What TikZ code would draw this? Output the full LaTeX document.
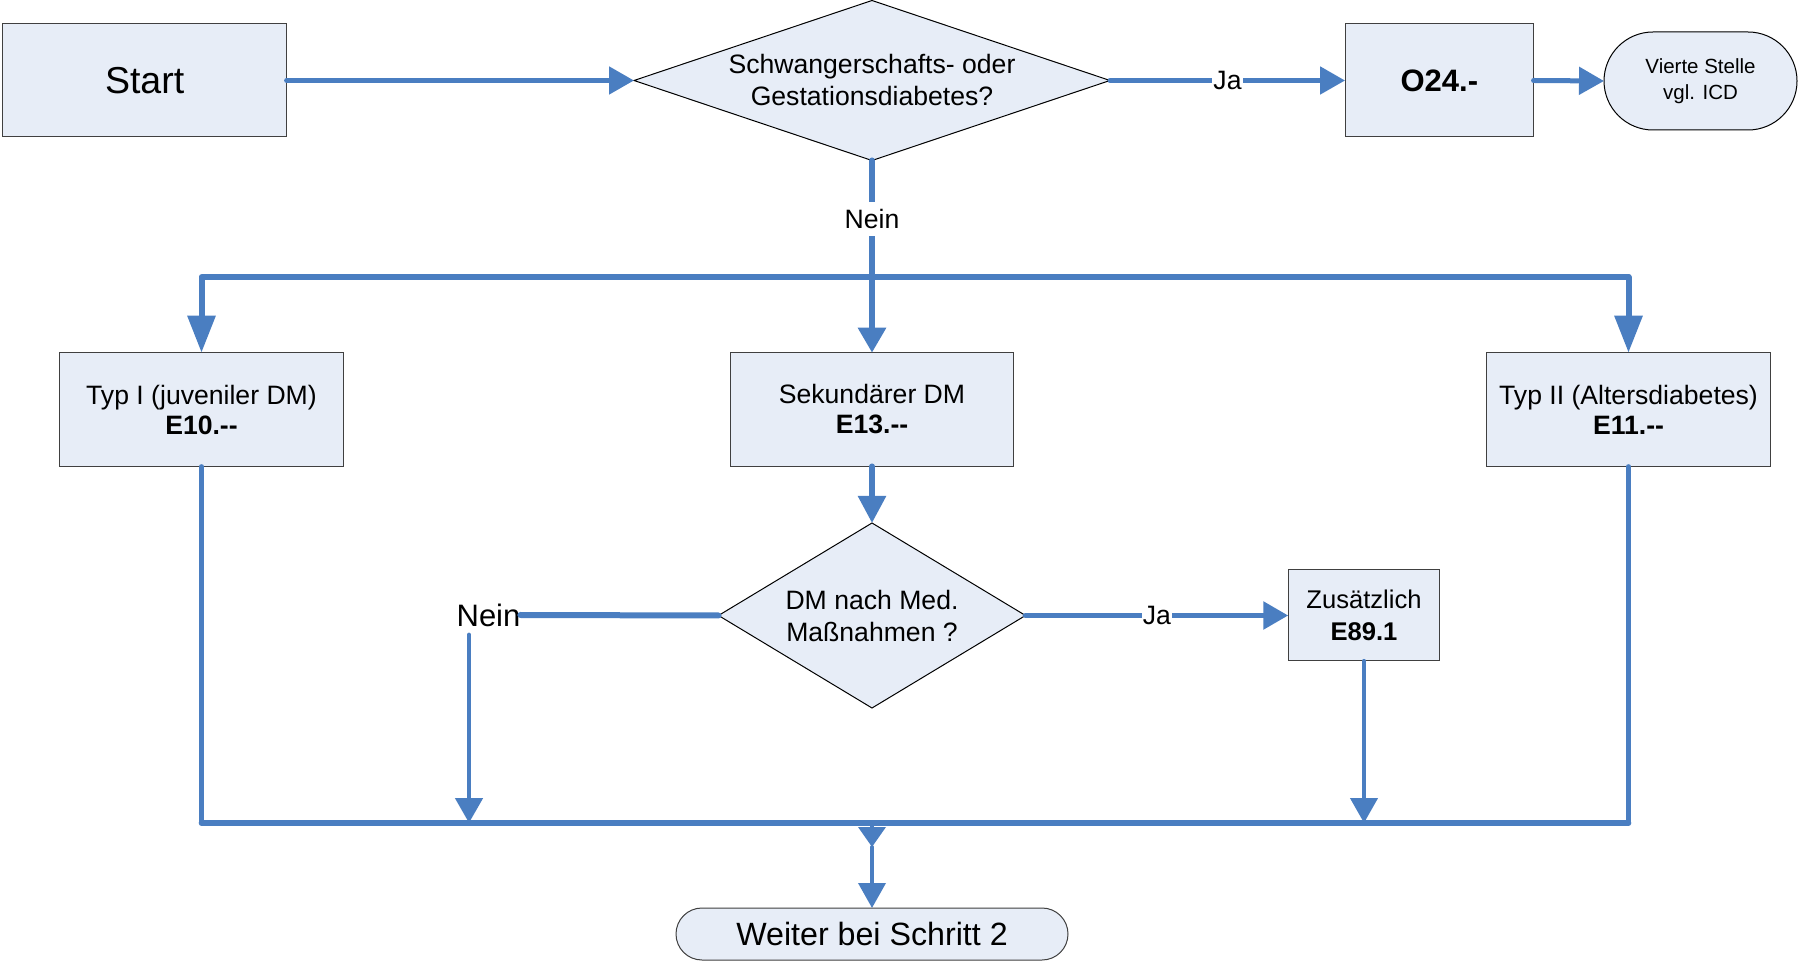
\documentclass[tikz,border=0pt]{standalone}
\usepackage{fontspec}
\setmainfont{Liberation Sans}
\usetikzlibrary{arrows.meta,shapes.geometric}
\definecolor{lineblue}{RGB}{74,126,193}
\definecolor{fillblue}{RGB}{231,237,247}
\definecolor{boxgray}{RGB}{64,64,64}
\newcommand\fsz[2]{\fontsize{#1}{#2}\selectfont}
\begin{document}
\begin{tikzpicture}[x=0.5pt,y=-0.5pt,
  conn/.style={draw=lineblue, line join=round, line cap=round},
  box/.style={draw=boxgray, line width=0.5pt, fill=fillblue, inner sep=0pt, outer sep=0pt, align=center},
  dia/.style={diamond, draw=black, line width=0.5pt, fill=fillblue, inner sep=0pt, outer sep=0pt},
  lbl/.style={fill=white, inner xsep=0.5pt, inner ysep=3.5pt, font=\fsz{13.3}{16}},
  tipS/.style={-{Triangle[width=13.5pt,length=12.5pt]}},
  tipM/.style={-{Triangle[width=13.5pt,length=13.5pt]}},
  tipL/.style={-{Triangle[width=13.5pt,length=18.5pt]}},
  tipT/.style={-{Triangle[width=13.5pt,length=10pt]}}]
\useasboundingbox (0,0) rectangle (1798,961);
\fill[white] (0,0) rectangle (1798,961);

% top row
\node[box, minimum width=142pt, minimum height=56.5pt, font=\fsz{18.75}{22}] (start) at (144.6,80.5) {Start};
\node[dia, minimum width=238pt, minimum height=80pt,
  label={[align=center, font=\fsz{13.3}{16}]center:{Schwangerschafts- oder\\Gestationsdiabetes?}}] (d1) at (872,80.5) {};
\node[box, minimum width=94.25pt, minimum height=56.5pt, font=\fsz{15.5}{18}\bfseries] (o24) at (1439.3,80.5) {O24.-};
\node[box, draw=black, rounded corners=24.5pt, minimum width=96.5pt, minimum height=49pt, font=\fsz{10.25}{13}] (vierte) at (1700.5,81) {Vierte Stelle\\vgl. ICD};

% middle row
\node[box, minimum width=141.8pt, minimum height=56.8pt, font=\fsz{13.3}{15}] (typ1) at (201.5,409.5) {Typ I (juveniler DM)\\\textbf{E10.\mbox{-}\mbox{-}}};
\node[box, minimum width=141.5pt, minimum height=56.8pt, font=\fsz{13.3}{15}] (sek) at (872,409.5) {Sekundärer DM\\\textbf{E13.\mbox{-}\mbox{-}}};
\node[box, minimum width=142pt, minimum height=56.8pt, font=\fsz{13.3}{15}] (typ2) at (1628.5,409.5) {Typ II (Altersdiabetes)\\\textbf{E11.\mbox{-}\mbox{-}}};

% second decision
\node[dia, minimum width=153.5pt, minimum height=92.5pt,
  label={[align=center, font=\fsz{13.3}{16}]center:{DM nach Med.\\Maßnahmen ?}}] (d2) at (872,615.5) {};
\node[font=\fsz{15.5}{18}, inner sep=0pt, outer sep=0pt] (nein2) at (488.5,615) {Nein};
\node[box, minimum width=75.75pt, minimum height=45.5pt, font=\fsz{12.8}{16}] (zus) at (1364,615.5) {Zusätzlich\\\textbf{E89.1}};

% end
\node[box, rounded corners=13pt, minimum width=196pt, minimum height=26pt, font=\fsz{16.1}{18}] (weiter) at (872,934) {Weiter bei Schritt 2};

% coordinates
\coordinate (j1) at (872,277);
\coordinate (n2) at (469,635);
\coordinate (b1) at (469,823);
\coordinate (b2) at (1364,823);
\coordinate (bl) at (201.5,823);
\coordinate (br) at (1628.5,823);
\coordinate (bm) at (872,823);
\coordinate (bm2) at (872,847);

% connectors
\draw[conn, line width=2.5pt, tipS] (start.east) -- (d1.west);
\draw[conn, line width=2.5pt, tipS] (d1.east) -- node[lbl]{Ja} (o24.west);
\draw[conn, line width=2.5pt, tipS] (o24.east) -- (vierte.west);
\draw[conn, line width=3pt] (d1.south) -- node[lbl]{Nein} (j1);
\draw[conn, line width=3pt, tipL] (j1) -| (typ1.north);
\draw[conn, line width=3pt, tipL] (j1) -| (typ2.north);
\draw[conn, line width=3pt, tipS] (j1) -- (sek.north);
\draw[conn, line width=2.8pt, tipM] (sek.south) -- (d2.north);
\draw[conn, line width=3pt] (d2.west) -- (nein2.east);
\draw[conn, line width=2.4pt, tipS] (n2) -- (b1);
\draw[conn, line width=2.8pt, tipS] (d2.east) -- node[lbl]{Ja} (zus.west);
\draw[conn, line width=2.1pt, tipS] (zus.south) -- (b2);
\draw[conn, line width=2.1pt] (typ1.south) -- (bl);
\draw[conn, line width=2.1pt] (typ2.south) -- (br);
\draw[conn, line width=2.8pt] (bl) -- (br);
\draw[conn, line width=1.9pt, tipT] (bm) -- (bm2);
\draw[conn, line width=1.9pt, tipS] (bm2) -- (weiter.north);
\end{tikzpicture}
\end{document}
